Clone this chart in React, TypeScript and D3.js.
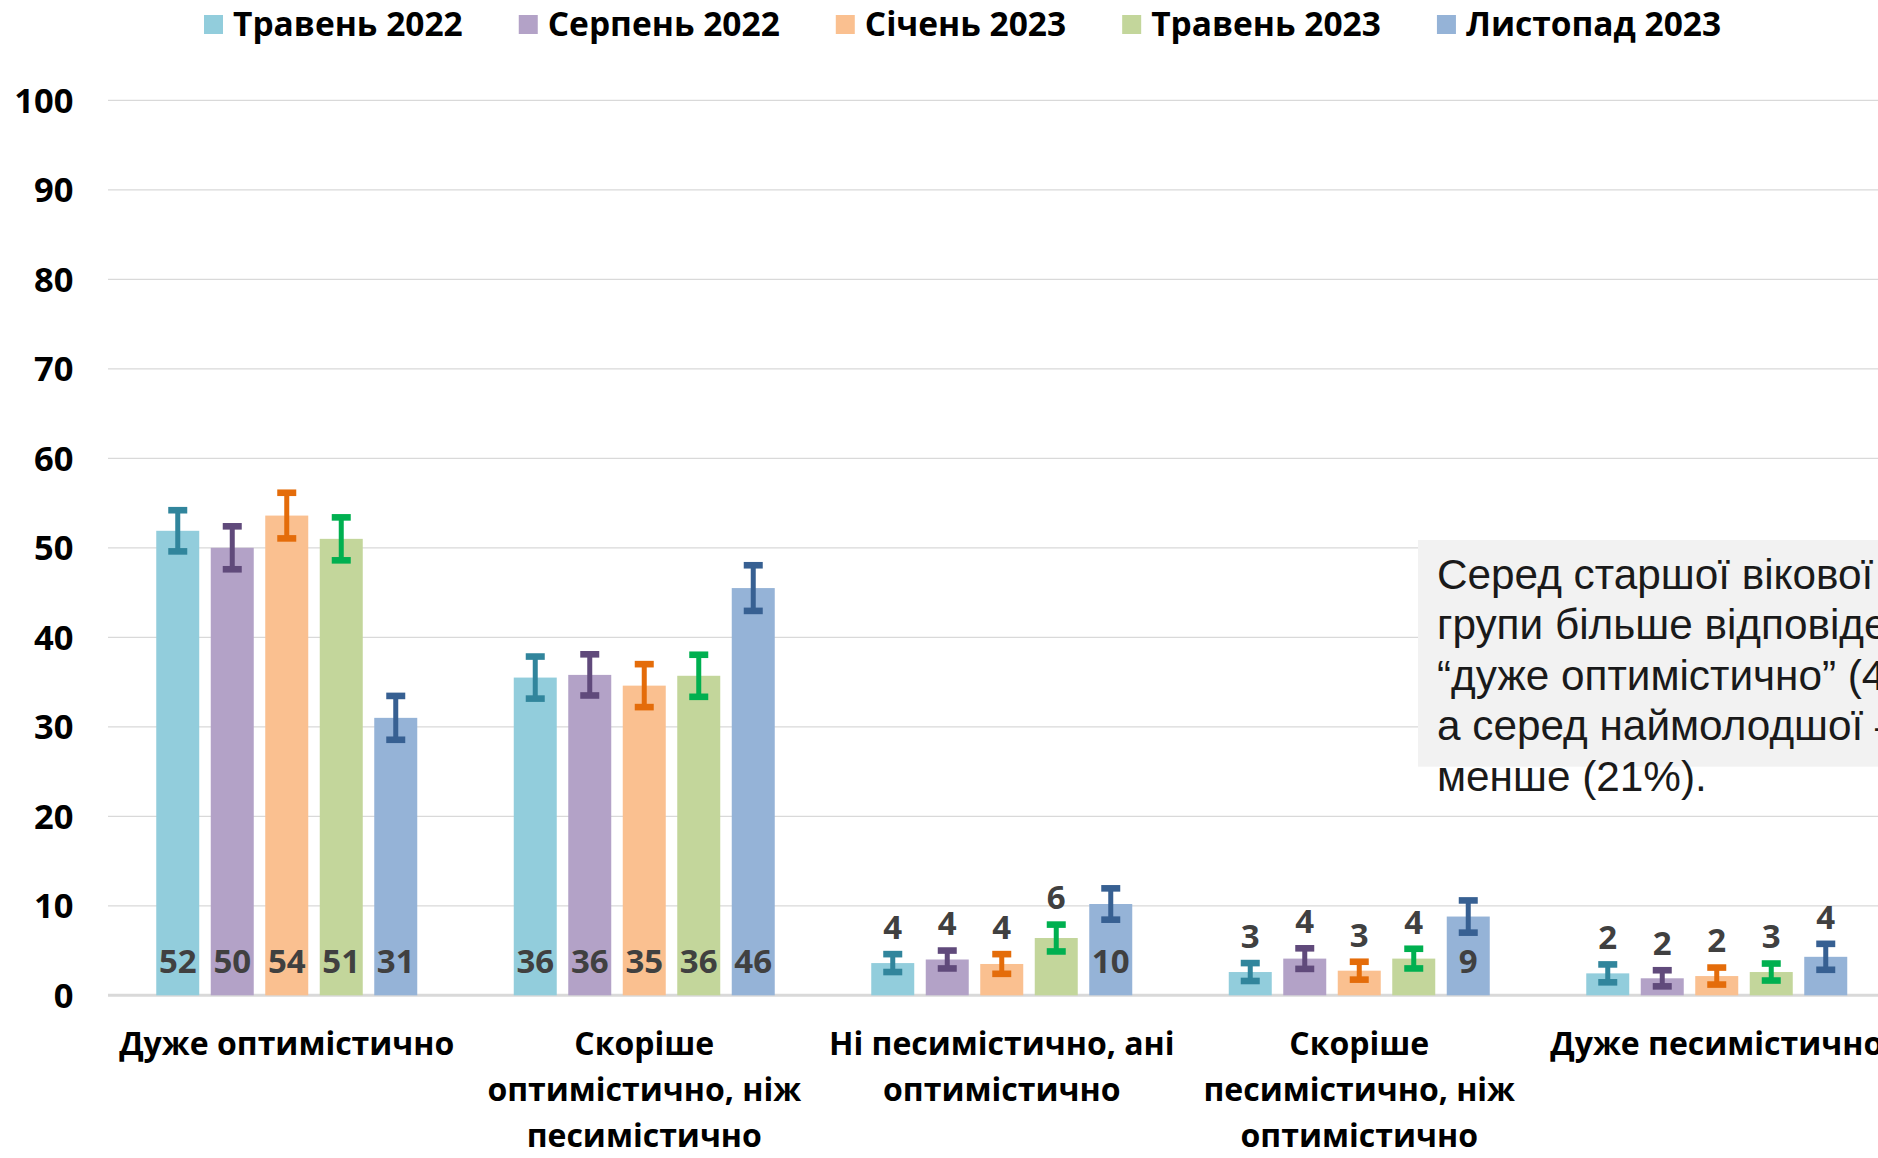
import React from "react";
import * as d3 from "d3";

// ---------- data ----------
const categories: string[][] = [
  ["Дуже оптимістично"],
  ["Скоріше", "оптимістично, ніж", "песимістично"],
  ["Ні песимістично, ані", "оптимістично"],
  ["Скоріше", "песимістично, ніж", "оптимістично"],
  ["Дуже песимістично"],
];
const seriesNames = ["Травень 2022", "Серпень 2022", "Січень 2023", "Травень 2023", "Листопад 2023"];

const may2022 = [51.9, 35.5, 3.6, 2.6, 2.45];
const aug2022 = [50.0, 35.8, 4.0, 4.1, 1.9];
const jan2023 = [53.6, 34.6, 3.5, 2.75, 2.15];
const may2023 = [51.0, 35.7, 6.4, 4.1, 2.6];
const nov2023 = [31.0, 45.5, 10.2, 8.8, 4.3];

const may2022Err = [2.3, 2.35, 1.0, 1.0, 1.0];
const aug2022Err = [2.4, 2.3, 1.0, 1.15, 0.9];
const jan2023Err = [2.55, 2.4, 1.1, 1.0, 0.95];
const may2023Err = [2.4, 2.35, 1.5, 1.1, 0.95];
const nov2023Err = [2.45, 2.55, 1.75, 1.8, 1.45];

const may2022Labels = ["52", "36", "4", "3", "2"];
const aug2022Labels = ["50", "36", "4", "4", "2"];
const jan2023Labels = ["54", "35", "4", "3", "2"];
const may2023Labels = ["51", "36", "6", "4", "3"];
const nov2023Labels = ["31", "46", "10", "9", "4"];

const yTicks = [0, 10, 20, 30, 40, 50, 60, 70, 80, 90, 100];

const barColors = ["#92cddc", "#b3a2c7", "#fac090", "#c3d69b", "#95b3d7"];
const errColors = ["#31859c", "#604a7b", "#e46c0a", "#00b050", "#376092"];

const noteLines = [
  "Серед старшої вікової",
  "групи більше відповідей",
  "“дуже оптимістично” (45%),",
  "а серед наймолодшої –",
  "менше (21%).",
];

// ---------- layout ----------
const W = 1878;
const H = 1158;
const FONT = "'Open Sans', 'Noto Sans', sans-serif";
const FS = 33;
const TICK_FS = 34.5;
const CAT_FS = 32;
const LEG_FS = 33.5;

const values = [may2022, aug2022, jan2023, may2023, nov2023];
const errors = [may2022Err, aug2022Err, jan2023Err, may2023Err, nov2023Err];
const labels = [may2022Labels, aug2022Labels, jan2023Labels, may2023Labels, nov2023Labels];

const y = d3.scaleLinear().domain([0, 100]).range([995.3, 100.3]);
const x0 = d3
  .scaleBand<number>()
  .domain(d3.range(categories.length))
  .range([108, 108 + 357.5 * categories.length])
  .paddingInner(0)
  .paddingOuter(0);
const x1 = d3
  .scaleBand<number>()
  .domain(d3.range(seriesNames.length))
  .range([0, 261])
  .paddingInner(0.211)
  .paddingOuter(0);

function measure(text: string, font: string): number {
  if (typeof document === "undefined") return text.length * 18;
  const c = document.createElement("canvas");
  const ctx = c.getContext("2d");
  if (!ctx) return text.length * 18;
  ctx.font = font;
  return ctx.measureText(text).width;
}

export default function App() {
  const groupOffset = (x0.bandwidth() - 261) / 2;

  // legend layout
  const legendFont = `bold ${LEG_FS}px 'Open Sans'`;
  let lx = 204;
  const legendItems = seriesNames.map((name, i) => {
    const item = { name, x: lx, color: barColors[i] };
    lx += 19 + 10 + measure(name, legendFont) + 56;
    return item;
  });

  return (
    <svg
      width={W}
      height={H}
      viewBox={`0 0 ${W} ${H}`}
      style={{ position: "absolute", left: 0, top: 0, display: "block", background: "#fff" }}
    >
      <rect x={0} y={0} width={W} height={H} fill="#ffffff" />

      {/* gridlines */}
      {yTicks.map((t) => (
        <line
          key={"g" + t}
          x1={108}
          x2={W}
          y1={y(t)}
          y2={y(t)}
          stroke="#d9d9d9"
          strokeWidth={t === 0 ? 3 : 1.3}
        />
      ))}

      {/* y tick labels */}
      {yTicks.map((t) => (
        <text
          key={"t" + t}
          x={73.5}
          y={y(t) + TICK_FS * 0.357}
          textAnchor="end"
          fontFamily={FONT}
          fontWeight={700}
          fontSize={TICK_FS}
          fill="#000"
        >
          {t}
        </text>
      ))}

      {/* bars */}
      {categories.map((_, ci) => (
        <g key={"c" + ci} transform={`translate(${(x0(ci) ?? 0) + groupOffset},0)`}>
          {seriesNames.map((_, si) => {
            const v = values[si][ci];
            const bx = x1(si) ?? 0;
            const bw = x1.bandwidth();
            return (
              <rect key={"b" + si} x={bx} y={y(v)} width={bw} height={y(0) - y(v)} fill={barColors[si]} />
            );
          })}
          {seriesNames.map((_, si) => {
            const v = values[si][ci];
            const e = errors[si][ci];
            const bx = x1(si) ?? 0;
            const bw = x1.bandwidth();
            const cx = bx + bw / 2;
            const yt = y(v + e);
            const yb = y(v - e);
            return (
              <g key={"e" + si} fill={errColors[si]}>
                <rect x={cx - 2.5} y={yt} width={5} height={yb - yt} />
                <rect x={cx - 9.5} y={yt - 3.3} width={19} height={6.6} />
                <rect x={cx - 9.5} y={yb - 3.3} width={19} height={6.6} />
              </g>
            );
          })}
          {seriesNames.map((_, si) => {
            const v = values[si][ci];
            const e = errors[si][ci];
            const bx = x1(si) ?? 0;
            const bw = x1.bandwidth();
            const cx = bx + bw / 2;
            const inside = v >= 8;
            const cy = inside ? y(0) - 33.6 : y(v + e) - 27;
            return (
              <text
                key={"l" + si}
                x={cx}
                y={cy + FS * 0.357}
                textAnchor="middle"
                fontFamily={FONT}
                fontWeight={700}
                fontSize={FS}
                fill="#404040"
              >
                {labels[si][ci]}
              </text>
            );
          })}
        </g>
      ))}

      {/* category labels */}
      {categories.map((lines, ci) => (
        <text
          key={"cat" + ci}
          textAnchor="middle"
          fontFamily={FONT}
          fontWeight={700}
          fontSize={CAT_FS}
          fill="#000"
        >
          {lines.map((ln, li) => (
            <tspan key={li} x={(x0(ci) ?? 0) + x0.bandwidth() / 2} y={1055 + li * 46}>
              {ln}
            </tspan>
          ))}
        </text>
      ))}

      {/* legend */}
      {legendItems.map((it) => (
        <g key={it.name}>
          <rect x={it.x} y={15} width={19} height={19} fill={it.color} />
          <text
            x={it.x + 29}
            y={36}
            fontFamily={FONT}
            fontWeight={700}
            fontSize={LEG_FS}
            fill="#000"
          >
            {it.name}
          </text>
        </g>
      ))}

      {/* annotation */}
      <rect x={1418} y={540} width={W - 1418 + 10} height={226.7} fill="#f2f2f2" />
      <text fontFamily="'Liberation Sans', Arial, sans-serif" fontSize={42.3} fill="#1a1a1a">
        {noteLines.map((ln, i) => (
          <tspan key={i} x={1437} y={589 + i * 50.4}>
            {ln}
          </tspan>
        ))}
      </text>
    </svg>
  );
}
